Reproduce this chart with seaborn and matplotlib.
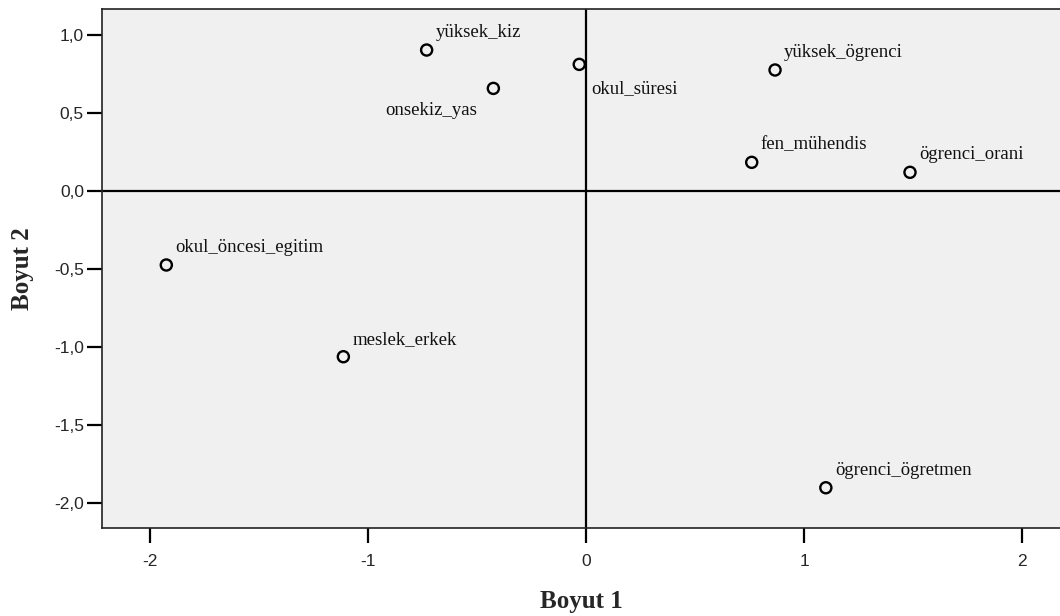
import numpy as np
import pandas as pd
import matplotlib
matplotlib.use("Agg")
import matplotlib.pyplot as plt
import seaborn as sns

# ==================== data ====================
labels = ["yüksek_kiz", "onsekiz_yas", "okul_süresi", "yüksek_ögrenci",
          "fen_mühendis", "ögrenci_orani", "ögrenci_ögretmen",
          "okul_öncesi_egitim", "meslek_erkek"]
boyut1 = [-0.731, -0.425, -0.031, 0.867, 0.760, 1.486, 1.100, -1.925, -1.113]
boyut2 = [0.904, 0.658, 0.812, 0.776, 0.184, 0.120, -1.902, -0.474, -1.062]

xticks = [-2, -1, 0, 1, 2]
yticks = [-2.0, -1.5, -1.0, -0.5, 0.0, 0.5, 1.0]

df = pd.DataFrame({"Boyut 1": boyut1, "Boyut 2": boyut2, "label": labels})

# ==================== style ====================
sns.set_style("ticks")
plt.rcParams["font.family"] = ["Liberation Sans", "DejaVu Sans"]

fig = plt.figure(figsize=(10.6, 6.16), dpi=100)
ax = fig.add_axes([102 / 1060, 1 - 528 / 616, 1 - 102 / 1060, (528 - 9) / 616])
ax.set_facecolor("#f0f0f0")

ax.axhline(0, color="black", lw=1.6, zorder=1)
ax.axvline(0, color="black", lw=1.6, zorder=1)

sns.scatterplot(data=df, x="Boyut 1", y="Boyut 2", ax=ax, s=64,
                facecolor="none", edgecolor="black", linewidth=1.7, zorder=3)

# label offsets in pixels (default: upper right of the point)
special = {"okul_süresi": (12, -29, "left"), "onsekiz_yas": (-16, -27, "right")}
for lab, x, y in zip(labels, boyut1, boyut2):
    dx, dy, ha = special.get(lab, (9, 13, "left"))
    ax.annotate(lab, (x, y), xytext=(dx * 0.72, dy * 0.72), textcoords="offset points",
                ha=ha, va="baseline", fontsize=13.5, family=["Liberation Serif"],
                color="#111111")

ax.set_xlim(-2.220, 2.174)
ax.set_ylim(-2.160, 1.167)
ax.set_xticks(xticks)
ax.set_yticks(yticks)
ax.set_xticklabels([f"{t:d}" for t in xticks])
ax.set_yticklabels([f"{t:.1f}".replace(".", ",") for t in yticks])
ax.tick_params(axis="both", length=11, width=1.6, labelsize=12.5, color="black")
ax.tick_params(axis="y", pad=2)
ax.tick_params(axis="x", pad=8)

for side in ["left", "bottom", "top"]:
    ax.spines[side].set_visible(True)
    ax.spines[side].set_color("#222222")
    ax.spines[side].set_linewidth(1.2)
ax.spines["right"].set_visible(False)

ax.set_xlabel("Boyut 1", fontsize=18, fontweight="bold", family=["Liberation Serif"], labelpad=15)
ax.set_ylabel("Boyut 2", fontsize=18, fontweight="bold", family=["Liberation Serif"], labelpad=14)

fig.savefig("out.png", dpi=100)
